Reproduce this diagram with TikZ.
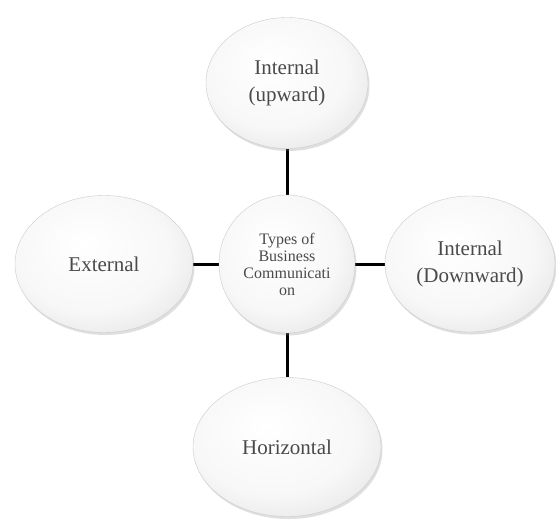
\documentclass[tikz,border=0pt]{standalone}
\usepackage{fontspec}
\setmainfont{Liberation Serif}
\usetikzlibrary{shapes.geometric,shadows,backgrounds}
\pgfdeclareradialshading{softball}{\pgfpoint{-6bp}{8bp}}{%
  color(0bp)=(white);
  color(22bp)=(white!97!black);
  color(34bp)=(white!90!black);
  color(42bp)=(white!80!black);
  color(48bp)=(white!66!black);
  color(52bp)=(white!55!black)}
\definecolor{txt}{HTML}{4A4A4A}
\tikzset{
  bubble/.style={ellipse, inner sep=0pt, shading=softball, draw=gray!40, line width=0.4pt,
    drop shadow={opacity=0.25, shadow xshift=1.5pt, shadow yshift=-2.5pt},
    text=txt, font=\fontsize{21}{27}\selectfont, align=center},
  link/.style={line width=3pt, black}
}
\begin{document}
\begin{tikzpicture}[x=1pt,y=-1pt]
\useasboundingbox (0,0) rectangle (556,520);
\node[bubble, minimum width=136pt, minimum height=138pt, font=\fontsize{16}{17}\selectfont] (c) at (287,264) {Types of\\Business\\Communicati\\on};
\node[bubble, minimum width=162pt, minimum height=131pt] (up) at (287,83) {Internal\\(upward)};
\node[bubble, minimum width=178pt, minimum height=137pt] (ext) at (104,264) {External};
\node[bubble, minimum width=170pt, minimum height=136pt] (down) at (470,264) {Internal\\(Downward)};
\node[bubble, minimum width=188pt, minimum height=139pt] (hor) at (287,447) {Horizontal};
\begin{scope}[on background layer]
\fill[white] (0,0) rectangle (556,520);
\draw[link] (c) -- (up);
\draw[link] (c) -- (ext);
\draw[link] (c) -- (down);
\draw[link] (c) -- (hor);
\end{scope}
\end{tikzpicture}
\end{document}
